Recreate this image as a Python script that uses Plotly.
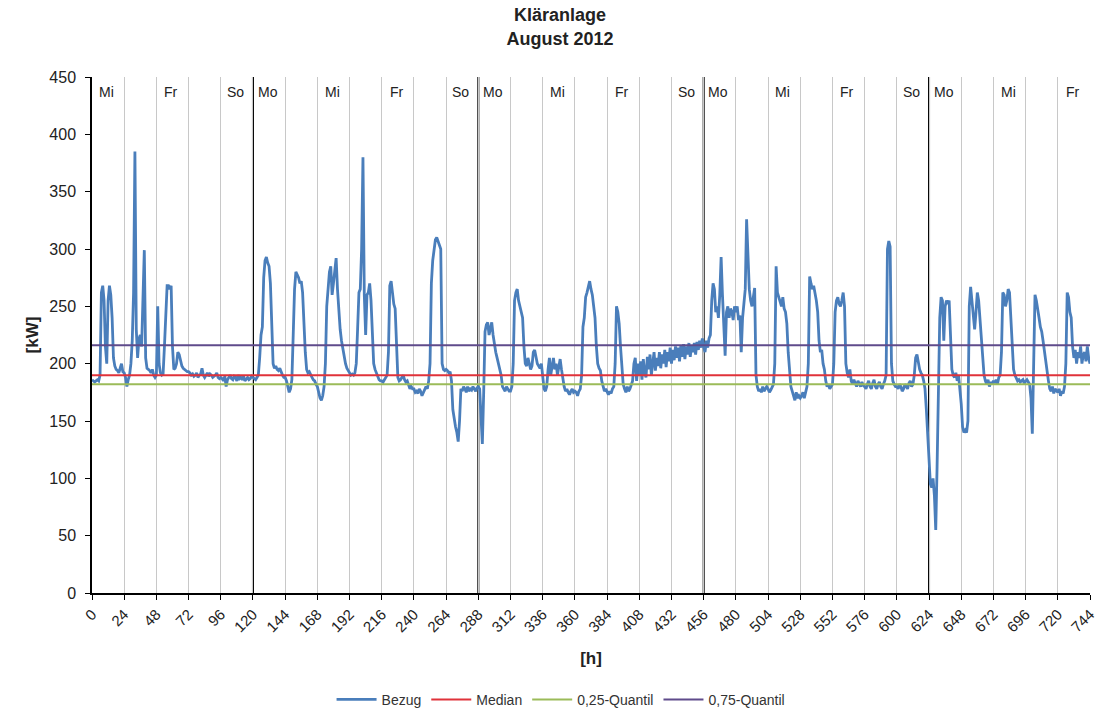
import plotly.graph_objects as go

# Bezug [kW], hourly values, August 2012 (hour 0 = Wed 01.08. 00:00)
bezug_w1 = [  # Wed 01.08. - Sun 05.08.
    186, 185, 184, 185, 186, 185, 190, 262, 268, 255, 215, 200, 255, 268, 260, 240, 205, 198, 195, 194, 192, 196, 200, 193,
    192, 188, 180, 186, 190, 200, 220, 262, 385, 230, 205, 222, 225, 215, 250, 299, 205, 196, 195, 194, 192, 195, 190, 188,
    190, 250, 200, 192, 190, 191, 215, 245, 268, 268, 265, 268, 215, 195, 196, 200, 210, 208, 202, 198, 196, 195, 194, 193,
    193, 192, 190, 191, 189, 190, 192, 188, 190, 191, 196, 190, 188, 190, 192, 189, 191, 190, 188, 189, 190, 192, 188, 187,
    188, 187, 185, 189, 180, 186, 188, 190, 187, 186, 189, 188, 185, 190, 187, 188, 186, 189, 185, 187, 188, 186, 187, 189,
]
bezug_w2 = [  # Mon 06.08. - Sun 12.08.
    188, 187, 186, 188, 190, 205, 225, 232, 275, 290, 293, 288, 285, 270, 235, 200, 196, 198, 195, 194, 196, 192, 190, 188,
    188, 185, 180, 175, 178, 186, 225, 265, 280, 278, 275, 270, 272, 262, 230, 210, 195, 192, 193, 190, 188, 186, 185, 182,
    180, 175, 170, 168, 172, 180, 200, 250, 265, 280, 285, 260, 270, 285, 292, 265, 245, 230, 220, 212, 205, 200, 196, 194,
    192, 190, 191, 190, 192, 200, 230, 262, 265, 300, 380, 260, 225, 260, 262, 270, 255, 225, 200, 195, 192, 190, 186, 185,
    185, 184, 186, 188, 190, 210, 268, 272, 260, 252, 248, 215, 188, 185, 186, 188, 190, 186, 184, 185, 182, 178, 180, 178,
    178, 175, 176, 174, 178, 176, 172, 175, 178, 180, 178, 185, 200, 270, 290, 300, 308, 310, 306, 304, 300, 200, 195, 194,
    195, 194, 192, 193, 185, 160, 150, 145, 140, 132, 150, 178, 176, 180, 178, 175, 180, 176, 178, 177, 180, 178, 176, 179,
]
bezug_w3 = [  # Mon 13.08. - Sun 19.08.
    180, 178, 150, 130, 175, 228, 234, 236, 225, 232, 236, 225, 215, 210, 205, 200, 196, 190, 180, 178, 176, 180, 178, 176,
    176, 180, 200, 255, 262, 265, 255, 250, 245, 240, 215, 200, 198, 205, 200, 195, 198, 210, 212, 205, 200, 198, 196, 200,
    185, 178, 176, 180, 195, 205, 190, 200, 205, 195, 200, 190, 198, 204, 195, 185, 180, 176, 178, 175, 173, 176, 178, 175,
    176, 175, 172, 176, 178, 190, 232, 240, 258, 262, 268, 272, 265, 260, 250, 240, 215, 200, 196, 194, 185, 180, 176, 178,
    175, 173, 176, 174, 178, 180, 200, 250, 245, 235, 215, 198, 182, 178, 175, 180, 176, 178, 182, 185, 200, 205, 185, 200,
    190, 202, 186, 204, 192, 188, 206, 195, 208, 190, 200, 210, 194, 205, 198, 210, 196, 208, 200, 212, 197, 210, 202, 214,
    200, 212, 203, 215, 205, 214, 202, 216, 206, 217, 204, 215, 208, 218, 206, 216, 210, 218, 208, 219, 212, 220, 214, 222,
]
bezug_w4 = [  # Mon 20.08. - Sun 26.08.
    215, 210, 220, 214, 222, 225, 255, 270, 265, 245, 250, 240, 260, 293, 260, 230, 207, 245, 250, 240, 248, 245, 238, 250,
    245, 250, 238, 242, 210, 240, 255, 265, 326, 290, 265, 255, 250, 258, 266, 190, 180, 176, 178, 175, 180, 176, 178, 180,
    178, 175, 177, 180, 182, 200, 285, 262, 258, 255, 250, 258, 248, 245, 235, 210, 195, 180, 176, 172, 168, 175, 170, 172,
    170, 172, 175, 170, 176, 180, 200, 276, 270, 265, 268, 262, 255, 245, 220, 210, 212, 200, 195, 185, 180, 182, 178, 180,
    182, 200, 245, 255, 258, 252, 250, 255, 262, 250, 200, 192, 188, 195, 185, 182, 186, 183, 180, 185, 182, 180, 184, 181,
    180, 178, 182, 185, 180, 178, 183, 186, 180, 178, 182, 184, 180, 178, 182, 185, 190, 300, 307, 302, 200, 185, 182, 180,
    180, 178, 182, 180, 176, 178, 182, 180, 178, 183, 185, 180, 182, 190, 205, 208, 200, 195, 192, 190, 185, 178, 160, 140,
]
bezug_w5 = [  # Mon 27.08. - Fri 31.08. (+ hour 744)
    110, 95, 92, 100, 85, 55, 110, 180, 240, 258, 255, 220, 250, 255, 252, 255, 215, 195, 190, 188, 192, 185, 190, 180,
    165, 145, 140, 142, 140, 150, 250, 267, 255, 240, 230, 245, 262, 255, 240, 220, 205, 190, 185, 182, 186, 180, 184, 182,
    185, 183, 186, 182, 188, 190, 210, 262, 260, 250, 255, 265, 262, 240, 215, 195, 190, 188, 185, 186, 184, 185, 186, 183,
    185, 186, 184, 182, 170, 139, 200, 260, 255, 245, 240, 232, 228, 220, 210, 200, 195, 185, 178, 176, 180, 174, 178, 176,
    175, 178, 172, 176, 174, 180, 200, 262, 258, 245, 240, 215, 205, 212, 200, 210, 205, 215, 200, 208, 210, 202, 215, 205,
    200,
]

median = 190
quantil_25 = 182
quantil_75 = 216

monday_hours = [120, 288, 456, 624]
day_names = ["Mi", "Fr", "So", "Mo", "Mi", "Fr", "So", "Mo", "Mi",
             "Fr", "So", "Mo", "Mi", "Fr", "So", "Mo", "Mi", "Fr"]
day_index = [0, 2, 4, 5, 7, 9, 11, 12, 14, 16, 18, 19, 21, 23, 25, 26, 28, 30]

bezug = bezug_w1 + bezug_w2 + bezug_w3 + bezug_w4 + bezug_w5
hours = list(range(len(bezug)))
last_h = hours[-1]

FONT = "Arial, 'Liberation Sans', sans-serif"
TXT = "#222222"

fig = go.Figure()
fig.add_trace(go.Scatter(x=hours, y=bezug, mode="lines", name="Bezug",
                         line=dict(color="#4a7ebb", width=2.8)))
fig.add_trace(go.Scatter(x=[0, last_h], y=[median, median], mode="lines", name="Median",
                         line=dict(color="#e0323a", width=2)))
fig.add_trace(go.Scatter(x=[0, last_h], y=[quantil_25, quantil_25], mode="lines", name="0,25-Quantil",
                         line=dict(color="#9bbb59", width=2)))
fig.add_trace(go.Scatter(x=[0, last_h], y=[quantil_75, quantil_75], mode="lines", name="0,75-Quantil",
                         line=dict(color="#5f4b8b", width=2)))

# week separators (Mondays), above the grid but below the data
for h in monday_hours:
    fig.add_shape(type="line", xref="x", yref="paper", x0=h, x1=h, y0=0, y1=1,
                  line=dict(color="black", width=2), layer="between")

# weekday labels at the top
for name, d in zip(day_names, day_index):
    fig.add_annotation(x=24 * d + 11, y=0.971, xref="x", yref="paper", text=name,
                       showarrow=False, yanchor="middle",
                       font=dict(family=FONT, size=14, color=TXT))

fig.update_layout(
    width=1096, height=709,
    margin=dict(l=92, r=6, t=77, b=116, autoexpand=False),
    paper_bgcolor="white", plot_bgcolor="white",
    font=dict(family=FONT, color=TXT),
    title=dict(text="<b>Kläranlage<br>August 2012</b>", x=0.511, xanchor="center",
               y=0.97, yanchor="middle", font=dict(family=FONT, size=18, color=TXT)),
    showlegend=True,
    legend=dict(orientation="h", x=0.47, xanchor="center", y=-0.207, yanchor="middle",
                font=dict(family=FONT, size=14, color="#333333"), itemwidth=40,
                bgcolor="rgba(0,0,0,0)"),
    xaxis=dict(range=[0, 744], tickmode="linear", tick0=0, dtick=24, tickangle=-45,
               automargin=False, ticklabeloverflow="allow",
               showgrid=True, gridcolor="#c8c8c8", gridwidth=1,
               showline=True, linecolor="black", linewidth=1.5,
               ticks="outside", ticklen=5, tickcolor="black", zeroline=False,
               tickfont=dict(family=FONT, size=15, color=TXT),
               title=dict(text="<b>[h]</b>", font=dict(family=FONT, size=17, color=TXT), standoff=18)),
    yaxis=dict(range=[0, 450], tickmode="linear", tick0=0, dtick=50,
               automargin=False,
               showgrid=False, zeroline=False,
               showline=True, linecolor="black", linewidth=1.5,
               ticks="outside", ticklen=5, tickcolor="black", ticklabelstandoff=6,
               tickfont=dict(family=FONT, size=16, color=TXT),
               title=dict(text="<b>[kW]</b>", font=dict(family=FONT, size=17, color=TXT), standoff=6)),
)

# drop the default page margin so the figure sits at the window's corner
fig.write_html("out.html", config={"displayModeBar": False},
               post_script="document.body.style.margin = '0';")
